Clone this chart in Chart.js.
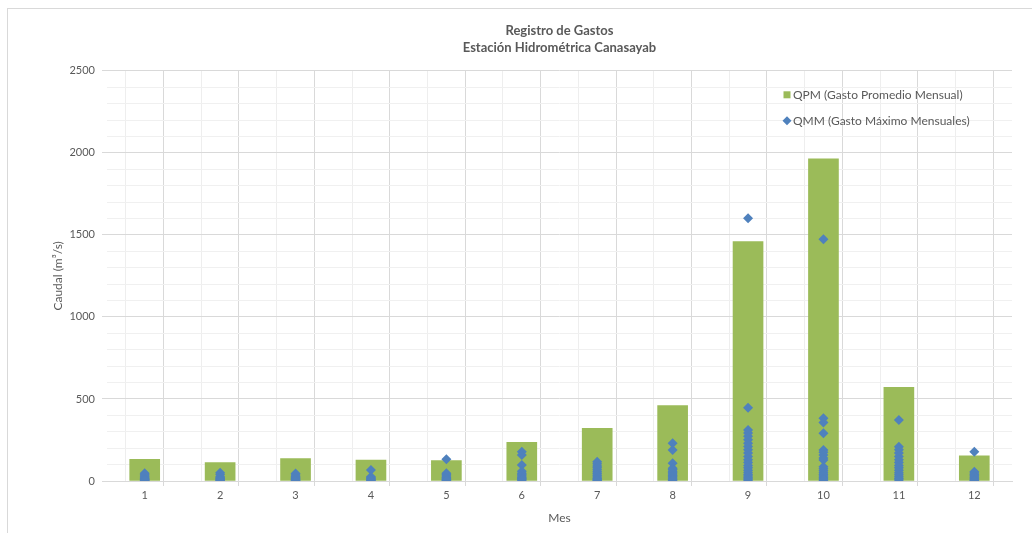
<!DOCTYPE html>
<html>
<head>
<meta charset="utf-8">
<script src="https://cdn.jsdelivr.net/npm/chart.js@4/dist/chart.umd.min.js"></script>
<style>
  html, body { margin: 0; padding: 0; background: #fff; }
  #wrap { position: relative; width: 1032px; height: 533px; overflow: hidden; }
  #frame { position: absolute; left: 7px; top: 8px; width: 1040px; height: 540px; border: 1px solid #d9d9d9; }
  #grafica { position: absolute; left: 0; top: 0; }
</style>
</head>
<body>
<div id="wrap">
  <div id="frame"></div>
  <canvas id="grafica" width="1032" height="533"></canvas>
</div>
<script>
/* global Chart */

// meses (eje x)
const meses = [1, 2, 3, 4, 5, 6, 7, 8, 9, 10, 11, 12];

// QPM - gasto promedio mensual (m3/s)
const qpm = [132, 112, 136, 128, 124, 236, 321, 459, 1459, 1963, 571, 154];

// QMM - gastos maximos mensuales, un arreglo por mes
const qmmEne = [47, 38, 30, 24, 18, 14, 10, 7, 4, 2];
const qmmFeb = [50, 40, 26, 20, 15, 10, 6, 3];
const qmmMar = [45, 36, 28, 22, 16, 12, 8, 5, 2];
const qmmAbr = [67, 26, 20, 15, 10, 6, 3];
const qmmMay = [132, 47, 38, 30, 22, 16, 10, 6, 3];
const qmmJun = [179, 159, 98, 60, 47, 38, 30, 22, 15, 10, 5];
const qmmJul = [118, 105, 92, 80, 68, 56, 45, 35, 25, 15, 8, 3];
const qmmAgo = [230, 189, 108, 77, 70, 60, 50, 42, 34, 26, 18, 10, 5];
const qmmSep = [1601, 447, 311, 292, 272, 251, 230, 210, 190, 170, 150, 130, 112, 95, 80, 65, 52, 40, 30, 20, 12, 5];
const qmmOct = [1474, 382, 356, 291, 189, 175, 159, 140, 128, 87, 75, 62, 50, 40, 30, 20, 12, 5];
const qmmNov = [372, 209, 190, 170, 150, 130, 112, 95, 80, 65, 50, 38, 26, 15, 6];
const qmmDic = [179, 57, 48, 40, 32, 25, 18, 12, 6, 2];

// ticks del eje y
const yMax = 2500;
const yPaso = 100;
const yEtiqueta = 500;

const qmmPorMes = [qmmEne, qmmFeb, qmmMar, qmmAbr, qmmMay, qmmJun, qmmJul, qmmAgo, qmmSep, qmmOct, qmmNov, qmmDic];

const barras = meses.map((m, i) => ({ x: m, y: qpm[i] }));
const puntos = [];
meses.forEach((m, i) => {
  qmmPorMes[i].forEach((v) => puntos.push({ x: m, y: v }));
});

const gris = '#595959';
const fuente = 'Lato, "Open Sans", sans-serif';

// leyenda dentro del area de la grafica (arriba a la derecha)
const leyendaInterna = {
  id: 'leyendaInterna',
  afterDraw(chart) {
    const { ctx, chartArea } = chart;
    const x = chartArea.right - 225;
    let y = chartArea.top + 24;
    ctx.save();
    ctx.font = '12px ' + fuente;
    ctx.textBaseline = 'middle';
    chart.data.datasets.forEach((ds) => {
      ctx.fillStyle = ds.backgroundColor;
      if (ds.type === 'bar') {
        ctx.fillRect(x - 3.5, y - 3.5, 7, 7);
      } else {
        ctx.beginPath();
        ctx.moveTo(x, y - 4.5);
        ctx.lineTo(x + 4.5, y);
        ctx.lineTo(x, y + 4.5);
        ctx.lineTo(x - 4.5, y);
        ctx.closePath();
        ctx.fill();
      }
      ctx.fillStyle = gris;
      ctx.fillText(ds.label, x + 6, y);
      y += 26;
    });
    ctx.restore();
  },
};

const esEntero = (v) => Math.abs(v - Math.round(v)) < 1e-6;

new Chart(document.getElementById('grafica'), {
  data: {
    datasets: [
      {
        type: 'bar',
        label: 'QPM (Gasto Promedio Mensual)',
        data: barras,
        backgroundColor: '#9BBB59',
        barThickness: 30,
        order: 1,
      },
      {
        type: 'line',
        label: 'QMM (Gasto Máximo Mensuales)',
        data: puntos,
        showLine: false,
        backgroundColor: '#4F81BD',
        borderColor: '#4F81BD',
        pointStyle: 'rectRot',
        pointRadius: 5,
        pointBorderWidth: 0,
        order: 0,
      },
    ],
  },
  options: {
    responsive: false,
    animation: false,
    layout: { padding: { left: 47, right: 20, top: 10, bottom: 4 } },
    plugins: {
      legend: { display: false },
      tooltip: { enabled: false },
      title: {
        display: true,
        fullSize: false,
        text: ['Registro de Gastos', 'Estación Hidrométrica Canasayab'],
        color: gris,
        font: { family: fuente, size: 13, weight: 'bold', lineHeight: 1.3 },
        padding: { top: 12, bottom: 15 },
      },
    },
    scales: {
      x: {
        type: 'linear',
        min: 0.5,
        max: 12.5,
        offset: false,
        afterFit(scale) { scale.height = 48; },
        ticks: {
          stepSize: 0.5,
          autoSkip: false,
          maxRotation: 0,
          padding: 3,
          color: gris,
          font: { family: fuente, size: 11 },
          callback: (v) => (esEntero(v) ? String(v) : ''),
        },
        grid: {
          color: (c) => (c.tick && esEntero(c.tick.value) ? '#eeeeee' : '#d9d9d9'),
          tickColor: (c) => (c.tick && esEntero(c.tick.value) ? 'rgba(0,0,0,0)' : '#d9d9d9'),
          tickLength: 5,
        },
        border: { color: '#d9d9d9' },
        title: {
          display: true,
          text: 'Mes',
          color: gris,
          font: { family: fuente, size: 12 },
          padding: { top: 2, bottom: 4 },
        },
      },
      y: {
        min: 0,
        max: yMax,
        afterFit(scale) { scale.width = 60; },
        ticks: {
          stepSize: yPaso,
          autoSkip: false,
          padding: 7,
          color: gris,
          font: { family: fuente, size: 11 },
          callback: (v) => (v % yEtiqueta === 0 ? String(v) : ''),
        },
        grid: {
          color: (c) => (c.tick && c.tick.value % yEtiqueta === 0 ? '#d9d9d9' : '#f0f0f0'),
          tickColor: (c) => (c.tick && c.tick.value % yEtiqueta === 0 ? '#d9d9d9' : 'rgba(0,0,0,0)'),
          tickLength: 5,
        },
        border: { display: false },
        title: {
          display: true,
          text: 'Caudal (m³/s)',
          color: gris,
          font: { family: fuente, size: 12 },
          padding: { top: 4, bottom: 4 },
        },
      },
    },
  },
  plugins: [leyendaInterna],
});
</script>
</body>
</html>
